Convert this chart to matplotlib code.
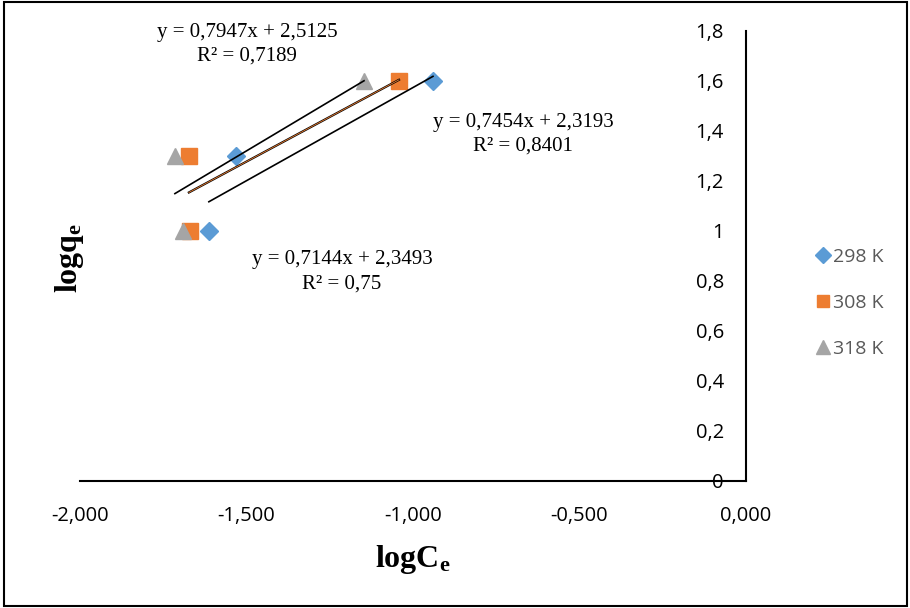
import matplotlib
matplotlib.use("Agg")
import matplotlib.pyplot as plt
from matplotlib.patches import Rectangle

plt.rcParams['mathtext.fontset'] = 'custom'
plt.rcParams['mathtext.rm'] = 'Liberation Serif'
plt.rcParams['mathtext.bf'] = 'Liberation Serif:bold'

series = ["298 K", "308 K", "318 K"]
x_298 = [-0.940, -1.532, -1.613]
y_298 = [1.6, 1.3, 1.0]
x_308 = [-1.042, -1.673, -1.670]
y_308 = [1.6, 1.3, 1.0]
x_318 = [-1.147, -1.715, -1.691]
y_318 = [1.6, 1.3, 1.0]
slopes = [0.7454, 0.7144, 0.7947]
intercepts = [2.3193, 2.3493, 2.5125]
r2 = ["0,8401", "0,75", "0,7189"]
eq_text = ["y = 0,7454x + 2,3193", "y = 0,7144x + 2,3493", "y = 0,7947x + 2,5125"]
xticks = [-2.0, -1.5, -1.0, -0.5, 0.0]
xtick_labels = ["-2,000", "-1,500", "-1,000", "-0,500", "0,000"]
yticks = [0, 0.2, 0.4, 0.6, 0.8, 1.0, 1.2, 1.4, 1.6, 1.8]
ytick_labels = ["0", "0,2", "0,4", "0,6", "0,8", "1", "1,2", "1,4", "1,6", "1,8"]

colors = ["#5B9BD5", "#ED7D31", "#A5A5A5"]
markers = ["D", "s", "^"]
msizes = [9, 11, 12]

fig = plt.figure(figsize=(9.1, 6.08), dpi=100)
ax = fig.add_axes([80/910, 1-481/608, (746-80)/910, 450/608])

xs = [x_298, x_308, x_318]
ys = [y_298, y_308, y_318]
for i in range(3):
    ax.plot(xs[i], ys[i], linestyle='none', marker=markers[i], color=colors[i],
            markersize=msizes[i], label=series[i], zorder=3 + i * 0.1, clip_on=False)

# trendlines
for i in range(3):
    x0, x1 = min(xs[i]), max(xs[i])
    lx = [x0, x1]
    ly = [slopes[i] * v + intercepts[i] for v in lx]
    if i == 1:
        ax.plot(lx, ly, color='black', lw=1.6, zorder=5)
        ax.plot(lx, ly, color=colors[1], lw=0.6, zorder=5.1)
    else:
        ax.plot(lx, ly, color='black', lw=1.2, zorder=5)

ax.set_xlim(-2.0, 0.0)
ax.set_ylim(0, 1.8)
ax.spines['top'].set_visible(False)
ax.spines['right'].set_visible(False)
ax.spines['left'].set_position(('data', 0))
ax.spines['left'].set_linewidth(1.5)
ax.spines['bottom'].set_linewidth(1.5)

ax.set_xticks(xticks)
ax.set_xticklabels(xtick_labels, fontfamily='Open Sans', fontsize=14.5)
ax.set_yticks(yticks)
ax.set_yticklabels(ytick_labels, fontfamily='Open Sans', fontsize=14.5)
ax.tick_params(axis='x', length=0, pad=18)
ax.tick_params(axis='y', length=0, pad=16)

ax.set_xlabel(r'$\mathbf{logC_e}$', fontsize=23, labelpad=12)
fig.text(70/910, 1-258/608, r'$\mathbf{logq_e}$', fontsize=23, rotation=90,
         ha='center', va='center')

# equation labels (figure pixel positions)
eq_pos = [(523, 122), (342, 260), (247, 32)]
for i in range(3):
    px, py = eq_pos[i]
    fig.text(px/910, 1-py/608, eq_text[i], fontfamily='Liberation Serif', fontsize=15,
             ha='center', va='center')
    fig.text(px/910, 1-(py+24)/608, "R² = " + r2[i], fontfamily='Liberation Serif',
             fontsize=15, ha='center', va='center')

leg = ax.legend(loc='center left', bbox_to_anchor=(796/910, 1-303/608),
                bbox_transform=fig.transFigure, frameon=False,
                prop={'family': 'Open Sans', 'size': 14}, labelspacing=1.45,
                handletextpad=0.0, handlelength=1.0, markerscale=0.85)
for t in leg.get_texts():
    t.set_color('#595959')

fig.patches.append(Rectangle((0.004, 0.004), 0.993, 0.993, transform=fig.transFigure,
                             fill=False, edgecolor='black', lw=1.5))

fig.savefig("out.png", dpi=100)
